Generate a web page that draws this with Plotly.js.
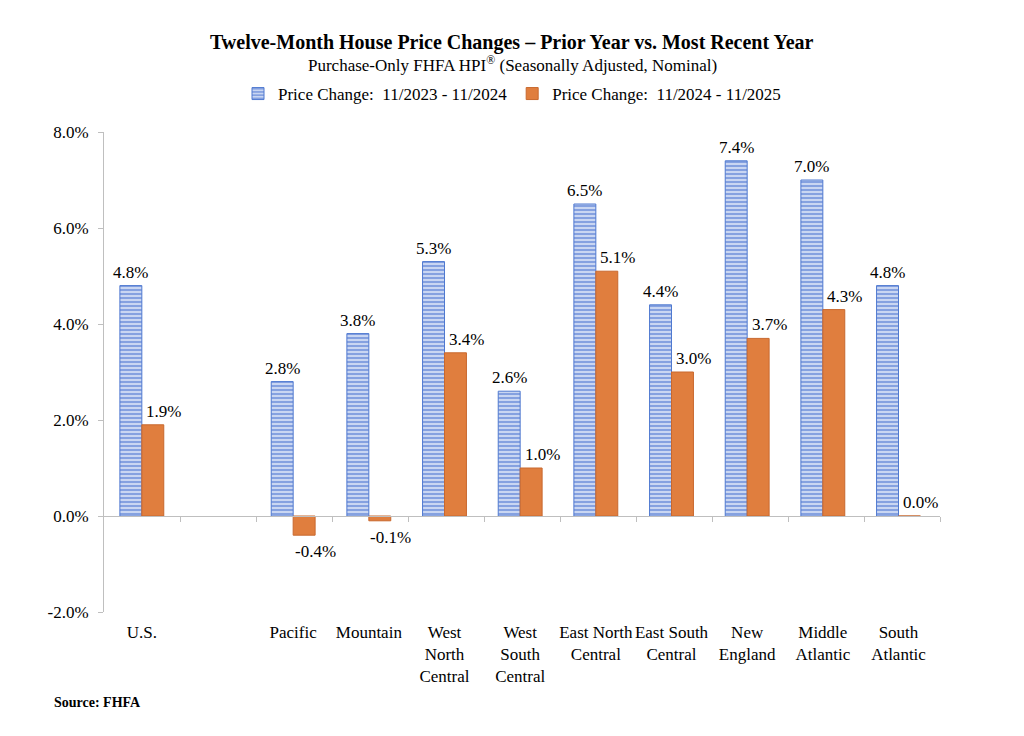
<!DOCTYPE html>
<html>
<head>
<meta charset="utf-8">
<script src="https://cdn.plot.ly/plotly-3.0.1.min.js"></script>
<style>html,body{margin:0;padding:0;background:#fff;}#chart{width:1024px;height:736px;}</style>
</head>
<body>
<div id="chart"></div>
<script>
const categories = ["U.S.", " ", "Pacific", "Mountain", "West<br>North<br>Central", "West<br>South<br>Central",
  "East North<br>Central", "East South<br>Central", "New<br>England", "Middle<br>Atlantic", "South<br>Atlantic"];
const prior = [4.8, null, 2.8, 3.8, 5.3, 2.6, 6.5, 4.4, 7.4, 7.0, 4.8];
const recent = [1.9, null, -0.4, -0.1, 3.4, 1.0, 5.1, 3.0, 3.7, 4.3, 0.0];
const seriesNames = ["Price Change:\u00a0\u00a011/2023 - 11/2024", "Price Change:\u00a0\u00a011/2024 - 11/2025"];
const yTicks = [-2, 0, 2, 4, 6, 8];
const yTickText = ["-2.0%", "0.0%", "2.0%", "4.0%", "6.0%", "8.0%"];
const boundaryTicks = [0.5, 1.5, 2.5, 3.5, 4.5, 5.5, 6.5, 7.5, 8.5, 9.5, 10.5];

const serif = "Liberation Serif, Times New Roman, serif";
const txt = {family: serif, size: 17, color: "#000"};

const traces = [
  {
    type: "bar", x: categories, y: prior, name: seriesNames[0],
    marker: {color: "#c3d1f0", line: {color: "#4f79d0", width: 1},
      pattern: {shape: "-", fgcolor: "#7393dc", bgcolor: "#c9d6f2", size: 4, solidity: 0.4}},
    hoverinfo: "skip"
  },
  {
    type: "bar", x: categories, y: recent, name: seriesNames[1],
    marker: {color: "#e07e3e", line: {color: "#c8682e", width: 1}},
    hoverinfo: "skip"
  },
  {
    type: "scatter", x: [0, 10], y: [null, null], xaxis: "x2", showlegend: false,
    hoverinfo: "skip", mode: "markers"
  }
];

// value labels placed through the axis scales
const labels = [];
[[prior, -11], [recent, 22]].forEach(([vals, dx]) => {
  vals.forEach((v, i) => {
    if (v === null) return;
    const neg = v < 0;
    labels.push({
      x: categories[i], y: v, xref: "x", yref: "y", text: v.toFixed(1) + "%",
      showarrow: false, xshift: dx, yshift: neg ? -5 : 2,
      xanchor: "center", yanchor: neg ? "top" : "bottom", font: txt
    });
  });
});

const layout = {
  width: 1024, height: 736,
  paper_bgcolor: "#fff", plot_bgcolor: "#fff",
  margin: {l: 104, r: 84, t: 132, b: 124},
  font: {family: serif, size: 17, color: "#000"},
  barmode: "group", bargap: 0.42, bargroupgap: 0,
  showlegend: true,
  legend: {orientation: "h", xref: "container", yref: "container", x: 0.5, xanchor: "center",
    y: 1 - 76/736, yanchor: "top", font: {family: serif, size: 17, color: "#000"},
    traceorder: "normal", itemwidth: 30},
  xaxis: {type: "category", categoryorder: "array", categoryarray: categories,
    showline: false, ticks: "", showgrid: false, zeroline: false, automargin: false,
    tickangle: 0, tickfont: txt, ticklabelstandoff: 8},
  xaxis2: {overlaying: "x", anchor: "free", position: 0.2, range: [-0.5, 10.5],
    tickmode: "array", tickvals: boundaryTicks, showticklabels: false,
    ticks: "outside", ticklen: 5, tickcolor: "#bfbfbf", showline: true, linecolor: "#bfbfbf",
    linewidth: 1, showgrid: false, zeroline: false, side: "bottom"},
  yaxis: {range: [-2, 8], tickmode: "array", tickvals: yTicks, ticktext: yTickText, automargin: false,
    showline: true, linecolor: "#bfbfbf", ticks: "outside", ticklen: 5, tickcolor: "#bfbfbf",
    showgrid: false, zeroline: false, tickfont: txt, ticklabelstandoff: 6},
  annotations: [
    {text: "<b>Twelve-Month House Price Changes – Prior Year vs. Most Recent Year</b>",
      xref: "paper", yref: "paper", x: (512-104)/836, y: (612-42)/480, xanchor: "center", yanchor: "middle",
      showarrow: false, font: {family: serif, size: 20, color: "#000"}},
    {text: "Purchase-Only FHFA HPI<sup>®</sup> (Seasonally Adjusted, Nominal)",
      xref: "paper", yref: "paper", x: (512-104)/836, y: (612-64)/480, xanchor: "center", yanchor: "middle",
      showarrow: false, font: {family: serif, size: 17, color: "#000"}},
    {text: "<b>Source: FHFA</b>",
      xref: "paper", yref: "paper", x: (52-104)/836, y: (612-702)/480, xanchor: "left", yanchor: "middle",
      showarrow: false, font: {family: serif, size: 14, color: "#000"}}
  ].concat(labels)
};

Plotly.newPlot("chart", traces, layout, {displayModeBar: false, staticPlot: true});
</script>
</body>
</html>
